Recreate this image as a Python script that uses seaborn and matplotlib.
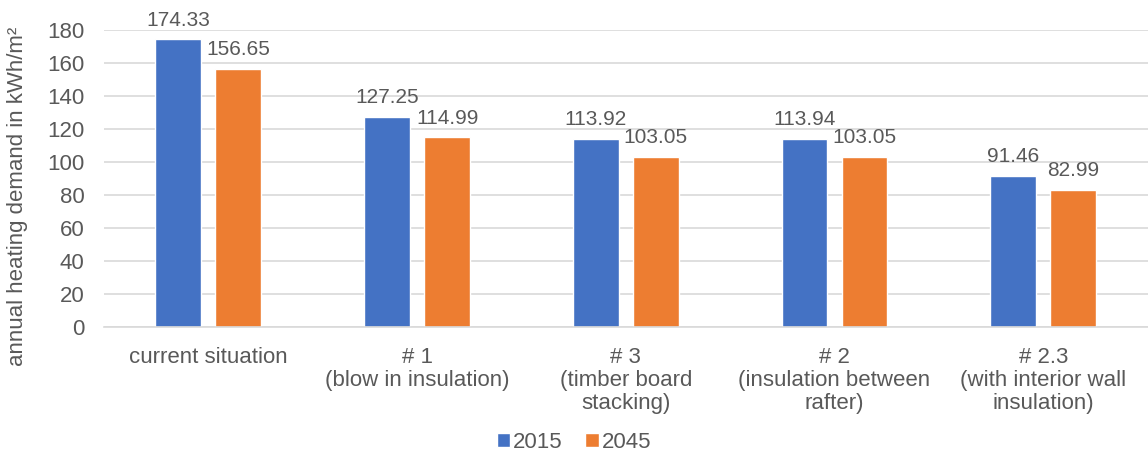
import pandas as pd
import matplotlib.pyplot as plt
import seaborn as sns

categories = [
    "current situation",
    "# 1\n(blow in insulation)",
    "# 3\n(timber board\nstacking)",
    "# 2\n(insulation between\nrafter)",
    "# 2.3\n(with interior wall\ninsulation)",
]
values_2015 = [174.33, 127.25, 113.92, 113.94, 91.46]
values_2045 = [156.65, 114.99, 103.05, 103.05, 82.99]
years = ["2015", "2045"]
y_ticks = [0, 20, 40, 60, 80, 100, 120, 140, 160, 180]

TEXT = "#595959"
GRID = "#D9D9D9"


def build_frame():
    records = []
    for cat, v in zip(categories, values_2015):
        records.append([cat, "2015", v])
    for cat, v in zip(categories, values_2045):
        records.append([cat, "2045", v])
    return pd.DataFrame(records, columns=["Scenario", "Year", "Demand"])


def plot_chart(df):
    sns.set_theme(style="white")
    plt.rcParams["font.family"] = ["Liberation Sans", "DejaVu Sans"]

    fig = plt.figure(figsize=(11.48, 4.55), dpi=100)
    ax = fig.add_axes([0.0906, 0.281, 0.909, 0.653])

    sns.barplot(data=df, x="Scenario", y="Demand", hue="Year", hue_order=years,
                order=categories, palette=["#4472C4", "#ED7D31"],
                width=0.575, gap=0.235, ax=ax, saturation=1, legend=True)

    for container in ax.containers:
        ax.bar_label(container, fmt="%.2f", padding=7, fontsize=15, color=TEXT)

    ax.set_ylim(0, 180)
    ax.set_yticks(y_ticks)
    ax.set_xlim(-0.5, len(categories) - 0.5)
    ax.yaxis.grid(True, color=GRID, linewidth=1.2)
    ax.set_axisbelow(True)
    for side in ["top", "right", "left"]:
        ax.spines[side].set_visible(False)
    ax.spines["bottom"].set_color(GRID)
    ax.spines["bottom"].set_linewidth(1.2)

    ax.tick_params(axis="both", length=0, labelsize=16, labelcolor=TEXT)
    ax.tick_params(axis="y", pad=14)
    ax.tick_params(axis="x", pad=14)
    for lab in ax.get_xticklabels():
        lab.set_linespacing(1.15)
    ax.set_xlabel("")
    ax.set_ylabel("annual heating demand in kWh/m²", fontsize=16, color=TEXT)
    ax.yaxis.set_label_coords(-0.073, 0.44)

    ax.legend(loc="lower center", bbox_to_anchor=(0.5, -0.04), bbox_transform=fig.transFigure,
              ncol=2, frameon=False, fontsize=16, handlelength=0.6, handleheight=0.6,
              handletextpad=0.15, columnspacing=1.0, labelcolor=TEXT)

    fig.savefig("out.png", dpi=100)
    plt.close(fig)


def main():
    df = build_frame()
    plot_chart(df)


if __name__ == "__main__":
    main()
